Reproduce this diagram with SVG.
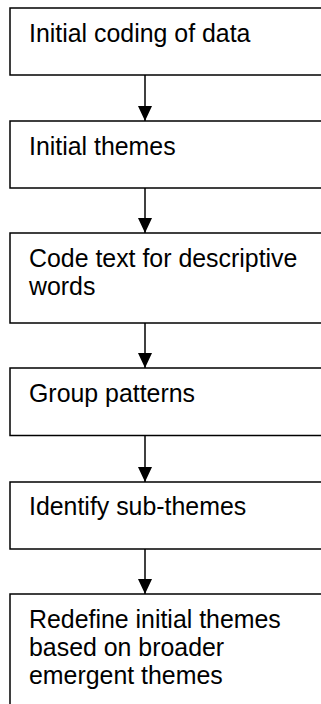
<svg xmlns="http://www.w3.org/2000/svg" width="321" height="704" viewBox="0 0 321 704">
<style>
.box{fill:#fff;stroke:#000;stroke-width:1.5}
.lbl{font-family:"Liberation Sans",Arial,sans-serif;font-size:24.9px;fill:#000}
.con{stroke:#000;stroke-width:1.5;fill:none}
</style>
<defs>
<marker id="ah" markerUnits="userSpaceOnUse" markerWidth="16" markerHeight="14" refX="15" refY="7" orient="auto">
<path d="M0,0 L15,7 L0,14 Z" fill="#000"/>
</marker>
</defs>
<rect width="321" height="704" fill="#fff"/>
<g id="n1"><rect class="box" x="10" y="8" width="330" height="67"/><text class="lbl" x="29" y="41.5">Initial coding of data</text></g>
<g id="n2"><rect class="box" x="10" y="121" width="330" height="67"/><text class="lbl" x="29" y="154.5">Initial themes</text></g>
<g id="n3"><rect class="box" x="10" y="233" width="330" height="90"/><text class="lbl" x="29" y="266.5">Code text for descriptive</text><text class="lbl" x="29" y="294.5">words</text></g>
<g id="n4"><rect class="box" x="10" y="368" width="330" height="67.5"/><text class="lbl" x="29" y="401.5">Group patterns</text></g>
<g id="n5"><rect class="box" x="10" y="482" width="330" height="67"/><text class="lbl" x="29" y="515">Identify sub-themes</text></g>
<g id="n6"><rect class="box" x="10" y="594" width="330" height="130"/><text class="lbl" x="29" y="627.5">Redefine initial themes</text><text class="lbl" x="29" y="656">based on broader</text><text class="lbl" x="29" y="684">emergent themes</text></g>
<g id="connectors">
<line class="con" x1="145" y1="75" x2="145" y2="121" marker-end="url(#ah)"/>
<line class="con" x1="145" y1="188" x2="145" y2="233" marker-end="url(#ah)"/>
<line class="con" x1="145" y1="323" x2="145" y2="368" marker-end="url(#ah)"/>
<line class="con" x1="145" y1="435.5" x2="145" y2="482" marker-end="url(#ah)"/>
<line class="con" x1="145" y1="549" x2="145" y2="594" marker-end="url(#ah)"/>
</g>
</svg>
